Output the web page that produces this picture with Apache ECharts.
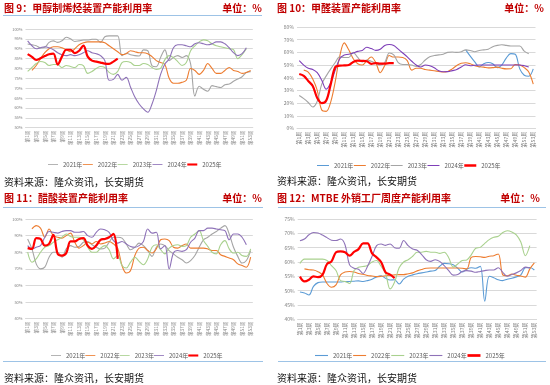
<!DOCTYPE html>
<html><head><meta charset="utf-8">
<script src="https://cdn.jsdelivr.net/npm/echarts@6/dist/echarts.min.js"></script>
<style>html,body{margin:0;padding:0;background:#fff}#c{width:550px;height:385px}</style>
</head><body><div id="c"></div>
<script>
const weeks = ['第1周','第2周','第3周','第4周','第5周','第6周','第7周','第8周','第9周','第10周','第11周','第12周','第13周','第14周','第15周','第16周','第17周','第18周','第19周','第20周','第21周','第22周','第23周','第24周','第25周','第26周','第27周','第28周','第29周','第30周','第31周','第32周','第33周','第34周','第35周','第36周','第37周','第38周','第39周','第40周','第41周','第42周','第43周','第44周','第45周','第46周','第47周','第48周','第49周','第50周','第51周','第52周','第53周'];
const years = ['2021年','2022年','2023年','2024年','2025年'];

// 图9 甲醇制烯烃
const mto2021 = [92.4,92,91.5,90.4,90.7,93.2,94,93.2,94,95.8,95,93.7,94,94.4,94.4,94.8,94.8,93.2,96.1,96.5,96.5,96.5,86.5,87.7,87,86.5,86.3,89.4,89,81.4,80.9,85.6,89.4,84,85.6,86.5,85.6,86.5,82.3,66,71,69.5,68.5,71.3,70.8,70.4,71.8,72.1,73.5,74.7,75.8,78,78.4];
const mto2022 = [null,79,81.5,85,88,90,91,91,90.5,89.5,88.5,90,92,93,93.5,93.5,93.5,93.5,93,91.5,90,88.5,87,87.5,89,88.5,88,88,87.5,86,84,83,82,75,72.5,72.5,73,74,80,79,77,79,82.5,80,77.5,77.5,79,80.5,79,78.5,77.5,78,79];
const mto2023 = [78.5,80.5,82.5,83.5,83,81.5,82,82,80.5,81.5,81,80.5,82,81.5,77.5,78.5,80,81,80.5,78,77,78.5,83,83.5,83,81.5,81.5,82.5,82,80.5,79.5,80,84.5,86.5,85.5,83.5,81.5,83,89,91.5,93.5,94.5,94,92.5,91.5,91,90.5,90,89.5,85,87,90,null];
const mto2024 = [94,91.5,90,90.5,91,90.5,89.5,88,87,86.5,87,86.5,87,88,89,88,87.5,86.5,84,74,74.5,77,74,75.5,70.5,65.5,62,59.5,57.8,62,68.8,77,82.3,84.8,90.5,92,92,91.5,91,92.5,93,92.5,92,92.5,93.5,93.5,92.5,90.5,88,86.5,87.5,90.5,null];
const mto2025 = [87.3,85.9,84.3,85.2,86.3,87.2,87.5,82,86,89.5,89.5,87.8,89,91.6,86,84,83.5,83,82.5,82.3,83.5,85];

// 图10 甲醛
const hcho2021 = [null,null,null,null,null,null,null,null,null,null,null,null,null,null,null,null,null,null,null,null,null,null,null,null,null,null,null,null,null,null,null,null,null,null,null,null,null,62,57,52.5,48.5,51,52,51,48,50,55.5,59,58.5,47,42,41.2,47];
const hcho2022 = [null,46,44.5,39,30,14.5,13.5,21,37,57,67.5,62,55,51,50,53.5,56.3,52,44,49.7,57.5,56.3,56.3,56,53.5,46,47.5,47.5,46.5,46,45.5,45,44.5,45,47,49.7,51.5,51.8,51,49.5,48.7,48.4,47.8,48,48.4,47.5,47,47.1,50.5,50,48,44.5,35];
const hcho2023 = [26,23.5,20.5,17,21.5,35,41.5,47,52,56.5,56,56,60,56,52.5,54,53,51.5,50,52,59.5,58,52,50.5,50.5,50,49,50.5,54,56.5,57.5,58,58.5,60,60.3,60,60.5,62,61.5,60.5,61.5,62,62.5,64.5,65.5,66,65.5,65,65,65,61,59,null];
const hcho2024 = [53.5,50,47.5,46.5,44,38,31,36,46,55,58,58.5,59.5,60.8,61.5,64,63,61.6,62.5,65.5,66.2,65.5,62.5,59.5,56.5,53,50,48.5,50,49.4,47.8,45.5,44.7,44.8,45.6,46.5,48.5,50.2,49.5,49.8,50,50,50,50,50,50,50,50,50,50,49.5,48.5,null];
const hcho2025 = [43,41.5,37.5,33.5,24,20,22,35,48.5,49.5,49.7,50,52.5,53.5,53.3,53,51,51.5,51.2,51.2,51.5,51.6];

// 图11 醋酸
const acet2021 = [88,82,73,70,71,77,80,80,77,82,84,83,83.5,86,86.5,84.5,83,82,82.5,86,89,89,88.5,85,81.5,83,85.5,84,81,77.5,83,85,84,81,79,77,75.5,73.5,75,78,83,87.5,89,91,92.5,94.5,96,91,83,77.5,73.5,75,81];
const acet2022 = [null,94,96,94.5,89,94,90,89,88.5,90,91.5,86,82.5,84,86,85,86.5,85,85.5,86.5,85,82.5,72,67.5,69,78,82.5,83,81,79.5,82,87.5,88,87,83,82.5,84,85,82.5,82.5,82.5,82.5,82,81,81,78.5,77.5,76.5,75.5,73,72,71,77];
const acet2023 = [80,74,76,80,83,84,86,87.5,89,91,89.5,89,89,87.5,83,80,80,82.5,84,81.5,76,78,72,70.5,74,77,74.5,72.5,76,83,84.5,81.5,79,82.5,84,84.5,83.5,84,89,91,93,87,83.5,80,79,84.5,87,82,79.5,80,78,77.5,82];
const acet2024 = [84,82,83,84,89,92.5,92,91.5,92.5,93,93,92,92,92.5,90,89,92,94,93.5,92,87,85.5,86.5,85,83.5,83,84,86.5,94,91.5,92,82,84,70,79.5,81,80.5,81.5,86,88.5,93,93,94.5,94.5,94,93.5,93,87.5,91,91,89,84.5,null];
const acet2025 = [82.5,82,88.5,88,84,85,90.5,79,78,79.5,86.5,86.5,88,88.5,84,82,84,87.5,88,89,91,76];

// 图12 MTBE
const mtbe2021 = [49.5,49.2,48.5,51.5,52.8,53,53,53,53,53,53.2,53.2,53.3,53.4,53.2,53.5,54,54.8,55.2,54.3,53.7,53.8,52.3,54,55,55.5,55.9,56.2,56.5,56.8,57,58.5,59.5,59.4,59,57.8,56.5,57.5,58,57.8,58.5,46.3,55,54.5,53.8,53.5,54,54.3,54.8,55.5,58,58.1,57.2];
const mtbe2022 = [null,57.6,57.3,57.2,56.6,55.5,52.5,51.2,52,55.5,56.5,56.7,56.5,56,55.7,55.3,55.1,54.9,55,55.2,55.4,55.5,55.6,55.6,55.9,56.2,56.9,57.4,57.8,57.9,57.9,57.9,57.9,57.9,57.9,57.9,57.8,57.6,61.6,61.9,61.8,61.6,62,62.2,62.8,55.5,55.2,55.8,55.4,55.1,54.7,57.6,59.7];
const mtbe2023 = [59.5,61,61,61,61,61,60.5,58.7,57,53.5,53.2,52.5,57,58.2,58.4,58.8,60,60.5,58.5,56,50.6,53,58,60,60.8,62,63.4,63.4,63.7,63.4,63.4,63,63.4,61.5,58.2,59.3,60.5,60.7,62.5,64.8,65.1,66.5,67.8,68.6,69,70.3,70.9,70.5,69.5,67,62.2,65.7,null];
const mtbe2024 = [67.4,68,69.5,70.3,70.1,69.4,68.5,67.6,67.5,68,66,59,57.8,57.5,56,58.5,62,65.7,66.3,65.8,66.3,65,64.8,67.5,65.7,64.5,64.1,62.6,60.8,60.2,60.8,60.2,58.7,57,55.4,55.6,56.7,57,56.8,56.4,56.7,57,57.2,57.2,58,56.4,55,55.6,56.2,57,58.2,57.8,null];
const mtbe2025 = [54.9,53.2,53.8,55,54.7,55.5,59.3,60.2,63.4,63.7,63.4,62.2,63.5,64.5,66.5,66.5,63,61.6,60,56.4,55.6,54.4];

const FONT = '"Noto Sans CJK SC","Noto Sans",sans-serif';
const panels = [
  {data:[mto2021,mto2022,mto2023,mto2024,mto2025], colors:['#A5A5A5','#ED7D31','#A9D18E','#8E72B8','#FF0000'],
   grid:{left:25.5,top:29,width:227.3,height:98.7}, y:[50,100,5], yfs:4, xfs:4.6,
   legend:{left:43,top:156.5,itemWidth:10,itemGap:0.5}},
  {data:[hcho2021,hcho2022,hcho2023,hcho2024,hcho2025], colors:['#5B9BD5','#ED7D31','#A5A5A5','#7E3FB8','#FF0000'],
   grid:{left:297,top:27,width:238.5,height:101.5}, y:[0,80,10], yfs:5, xfs:5.2,
   legend:{left:312,top:157.5,itemWidth:12,itemGap:0.5}},
  {data:[acet2021,acet2022,acet2023,acet2024,acet2025], colors:['#A5A5A5','#ED7D31','#A9D18E','#8E72B8','#FF0000'],
   grid:{left:25.5,top:219,width:227.3,height:99.7}, y:[40,100,10], yfs:4, xfs:4.6,
   legend:{left:46,top:347.5,itemWidth:10,itemGap:0}},
  {data:[mtbe2021,mtbe2022,mtbe2023,mtbe2024,mtbe2025], colors:['#5B9BD5','#ED7D31','#A9D18E','#8E72B8','#FF0000'],
   grid:{left:297.7,top:219,width:238.9,height:100.3}, y:[40,75,5], yfs:5, xfs:5.2,
   legend:{left:310,top:347.5,itemWidth:13,itemGap:0.8}}
];

const grids=[], xAxes=[], yAxes=[], series=[], legends=[];
panels.forEach((p,i)=>{
  grids.push(p.grid);
  xAxes.push({type:'category', gridIndex:i, data:weeks, boundaryGap:true,
    axisLine:{lineStyle:{color:'#D9D9D9'}}, axisTick:{show:false},
    axisLabel:{interval:1, rotate:90, fontSize:p.xfs, color:'#7F7F7F', margin:3, fontFamily:FONT}});
  yAxes.push({type:'value', gridIndex:i, min:p.y[0], max:p.y[1], interval:p.y[2],
    axisLine:{show:false}, axisTick:{show:false},
    splitLine:{lineStyle:{color:'#D9D9D9', width:1}},
    axisLabel:{formatter:'{value}%', fontSize:p.yfs, color:'#7F7F7F', margin:3, fontFamily:FONT}});
  const suffix = '\u200b'.repeat(i);
  const names = years.map(y=>y+suffix);
  p.data.forEach((d,k)=>{
    const red = k===4;
    series.push({type:'line', name:names[k], data:d, xAxisIndex:i, yAxisIndex:i,
      smooth:0.35, symbol:'none', connectNulls:false,
      lineStyle:{color:p.colors[k], width: red?2.2:1.1},
      itemStyle:{color:p.colors[k]}, z: red?5:2, silent:true});
  });
  legends.push({left:p.legend.left, top:p.legend.top, orient:'horizontal',
    itemWidth:p.legend.itemWidth, itemHeight:3, itemGap:p.legend.itemGap, symbolKeepAspect:true,
    textStyle:{fontSize:6, color:'#595959', fontFamily:FONT},
    formatter:n=>n.replace(/\u200b/g,''),
    data:names.map((n,k)=>({name:n, icon: k===4 ? 'path://M0,0H12V2.5H0Z' : 'path://M0,0H12V1H0Z'}))});
});

function txt(x,y,text,opt){
  return {type:'text', x:x, y:y, silent:true, style:Object.assign({text:text, font:'10px '+FONT, fill:'#000', textAlign:'left', textVerticalAlign:'middle'}, opt||{})};
}
function hline(x1,x2,y){
  return {type:'line', silent:true, shape:{x1:x1,y1:y,x2:x2,y2:y}, style:{stroke:'#9DC3E6', lineWidth:1}};
}
const TF = 'bold 10px '+FONT;
const RED = '#C00000';
const graphic = [
  txt(4,8,'图 9：甲醇制烯烃装置产能利用率',{font:TF, fill:RED}),
  txt(262,8,'单位：%',{font:TF, fill:RED, textAlign:'right'}),
  hline(3,262,15.5),
  txt(277,8,'图 10：甲醛装置产能利用率',{font:TF, fill:RED}),
  txt(544,8,'单位：%',{font:TF, fill:RED, textAlign:'right'}),
  txt(4,182,'资料来源：隆众资讯，长安期货',{fill:'#111'}),
  txt(277,181,'资料来源：隆众资讯，长安期货',{fill:'#111'}),
  txt(4,198,'图 11：醋酸装置产能利用率',{font:TF, fill:RED}),
  txt(262,198,'单位：%',{font:TF, fill:RED, textAlign:'right'}),
  hline(3,263,207.5),
  txt(277,198,'图 12：MTBE 外销工厂周度产能利用率',{font:TF, fill:RED}),
  txt(540,198,'单位：%',{font:TF, fill:RED, textAlign:'right'}),
  hline(278,546,207.5),
  hline(3,263,361.5),
  hline(278,546,361.5),
  txt(4,378,'资料来源：隆众资讯，长安期货',{fill:'#111'}),
  txt(277,378,'资料来源：隆众资讯，长安期货',{fill:'#111'})
];

const chart = echarts.init(document.getElementById('c'), null, {renderer:'canvas'});
chart.setOption({animation:false, backgroundColor:'#fff', grid:grids, xAxis:xAxes, yAxis:yAxes, series:series, legend:legends, graphic:graphic});
</script></body></html>
